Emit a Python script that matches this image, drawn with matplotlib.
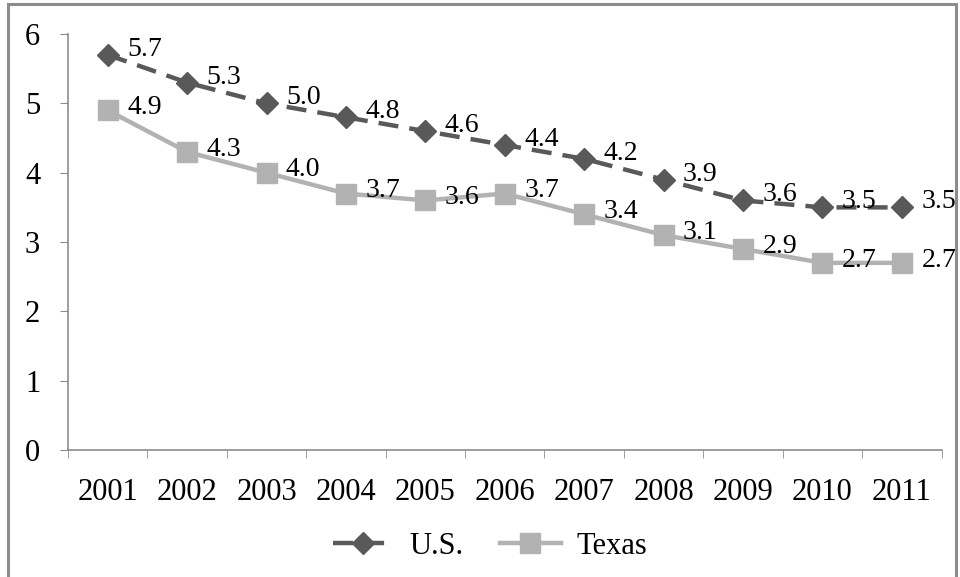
import matplotlib.pyplot as plt
from matplotlib.patches import Rectangle
import numpy as np

years = ["2001", "2002", "2003", "2004", "2005", "2006",
         "2007", "2008", "2009", "2010", "2011"]
us = [5.7, 5.3, 5.0, 4.8, 4.6, 4.4, 4.2, 3.9, 3.6, 3.5, 3.5]
texas = [4.9, 4.3, 4.0, 3.7, 3.6, 3.7, 3.4, 3.1, 2.9, 2.7, 2.7]


def main():
    plt.rcParams['font.family'] = ['Liberation Serif', 'DejaVu Serif']
    fs = 22

    fig = plt.figure(figsize=(9.6, 5.77), dpi=100)
    # outer border like the pasted Excel chart
    fig.patches.append(Rectangle((0.008, -0.01), 0.988, 1.003, transform=fig.transFigure,
                                 fill=False, edgecolor="#8c8c8c", linewidth=2.2))

    ax = fig.add_axes([0.0708, 0.22, 0.91, 0.721])
    x = np.arange(len(years))

    ax.plot(x, us, color="#595959", linestyle=(0, (4.5, 2.5)), linewidth=3.2,
            marker="D", markersize=11, label="U.S.")
    ax.plot(x, texas, color="#b2b2b2", linestyle="-", linewidth=3.2,
            marker="s", markersize=14, label="Texas")

    for xi, v in zip(x, us):
        ax.annotate(f"{v:.1f}", (xi, v), xytext=(14, 4), textcoords="offset points",
                    ha="left", va="center", fontsize=fs - 2)
    for xi, v in zip(x, texas):
        ax.annotate(f"{v:.1f}", (xi, v), xytext=(14, 2), textcoords="offset points",
                    ha="left", va="center", fontsize=fs - 2)

    ax.set_xlim(-0.5, len(years) - 0.5)
    ax.set_ylim(0, 6)
    ax.set_yticks(range(0, 7))
    ax.set_xticks(x)
    ax.set_xticklabels(years)
    ax.set_xticks(np.arange(-0.5, len(years)), minor=True)
    ax.tick_params(axis="x", which="major", length=0, labelsize=fs, pad=20)
    ax.tick_params(axis="x", which="minor", length=6, color="#8c8c8c")
    ax.tick_params(axis="y", length=6, color="#8c8c8c", labelsize=fs, pad=14)

    for s in ["top", "right"]:
        ax.spines[s].set_visible(False)
    for s in ["left", "bottom"]:
        ax.spines[s].set_color("#8c8c8c")
        ax.spines[s].set_linewidth(1.2)

    ax.legend(loc="upper center", bbox_to_anchor=(0.483, -0.13), ncol=2, frameon=False,
              fontsize=fs, handlelength=2.0, handletextpad=0.5, columnspacing=1.2)

    fig.savefig("out.png", dpi=100)


if __name__ == "__main__":
    main()
